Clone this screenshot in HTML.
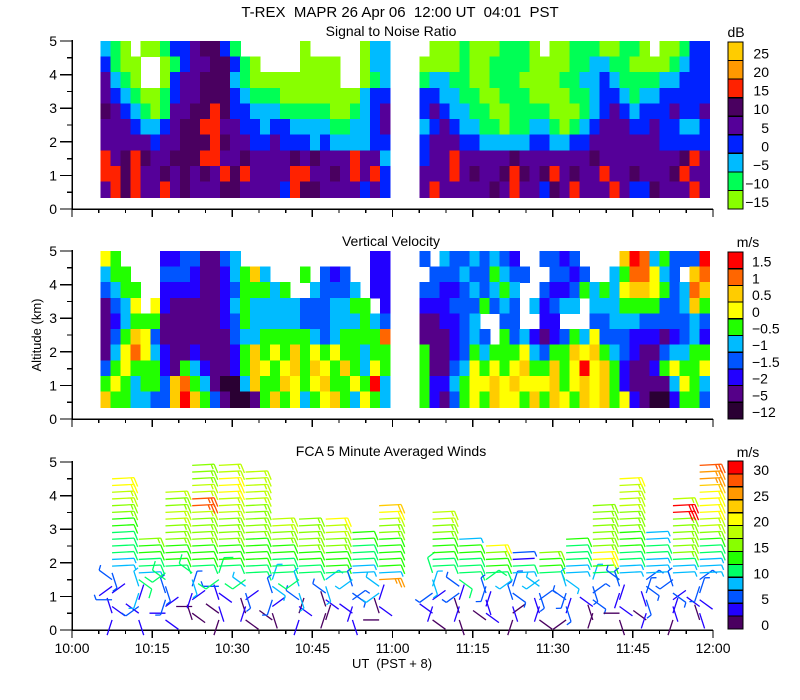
<!DOCTYPE html>
<html><head><meta charset="utf-8">
<style>
html,body{margin:0;padding:0;background:#fff;}
svg{display:block;font-family:"Liberation Sans",sans-serif;}
text{fill:#000;}
</style></head>
<body>
<svg id="chart" width="800" height="700" viewBox="0 0 800 700" xmlns="http://www.w3.org/2000/svg" shape-rendering="crispEdges">
<text x="400" y="17" font-size="15" text-anchor="middle" xml:space="preserve">T-REX  MAPR 26 Apr 06  12:00 UT  04:01  PST</text>
<text x="391" y="36" font-size="14" text-anchor="middle">Signal to Noise Ratio</text>
<text x="391" y="246" font-size="14" text-anchor="middle">Vertical Velocity</text>
<text x="391" y="456" font-size="14" text-anchor="middle">FCA 5 Minute Averaged Winds</text>
<text x="392" y="668" font-size="13" text-anchor="middle" xml:space="preserve">UT  (PST + 8)</text>
<text x="0" y="0" font-size="13" text-anchor="middle" transform="translate(41,335) rotate(-90)">Altitude (km)</text>
<text x="736" y="37" font-size="14" text-anchor="middle">dB</text>
<text x="748" y="247" font-size="14" text-anchor="middle">m/s</text>
<text x="748" y="457" font-size="14" text-anchor="middle">m/s</text>
<g id="layer"></g>
</svg>
<script>
// ---- Shared axis data ----
const xTickLabels = ["10:00","10:15","10:30","10:45","11:00","11:15","11:30","11:45","12:00"];
const yTickLabels = ["0","1","2","3","4","5"];

// ---- SNR heatmap data (rows top->bottom, 5 km to 0.35 km; color class index) ----
const snrLevels = ["25","20","15","10","5","0","-5","-10","-15"];
const snrColors = ["#ffffff","#88ff00","#00ff55","#00bbff","#0022ff","#550099","#4a0060","#ff2200","#ff9900","#ffcc00"];
const snrLeft = [
"32101124456642000000100000133",
"42110012455664210000111100133",
"53210014556663211111111100123",
"54321124556664322211111111344",
"65432125566764433322222112345",
"55543345667755443443333223345",
"55555455666765544544434333344",
"75676556667755655556565557553",
"77675565656576755557755657574",
"57675575655566555547665555454"];
const snrRight = [
"01112111222101122211221011244",
"11112112222111122332211112344",
"23322112221111223343222233444",
"44332211222111122344323344444",
"45433221122221112345434445445",
"34543322122332123455544544334",
"45554433333443344555555544444",
"45575555565555555655555555675",
"55575655676567565575565556755",
"57555556575546575557544655575"];

// ---- Vertical velocity heatmap data ----
const velLevels = ["1.5","1","0.5","0","-0.5","-1","-1.5","-2","-5","-12"];
const velColors = ["#ffffff","#2a0033","#550088","#2200ff","#0055ff","#00bbff","#22ff00","#ffff00","#ffcc00","#ff6600","#ff0000"];
const velLeft = [
"76000033442245000000000000033",
"56600044432235685000604340033",
"45660033332234666560054445033",
"24570732222235655555444556603",
"23566622222234655555444555654",
"24687422222224556666654566669",
"25797532232223686768676766566",
"46766632653223687678687686576",
"676566489652115866876786676a5",
"86655448a86421126867567865765"];
const velRight = [
"405445454300443400008a956444a",
"04445446544004434005699754089",
"44334545650043346565788764598",
"33344464540534550555666644586",
"22334500440033000445554444454",
"22234540645323465744433323453",
"62234656667546687865432245566",
"6224576767866867a786322367667",
"63356778787778678786322225765",
"63246768776868768786732113664"];

// ---- Wind barbs: speed class per level (bottom 0.3 km upward, 0.2 km step) ----
const windLevels = ["30","25","20","15","10","5","0"];
const windColors = ["#4a0060","#2200ff","#0055ff","#00bbff","#00ff66","#22ff00","#88ff00","#bbff00","#ffff00","#ffcc00","#ff9900","#ff5500","#ff0000"];
const windTimes = [7.5,12.5,17.5,22.5,27.5,32.5,37.5,42.5,47.5,52.5,57.5,67.5,72.5,77.5,82.5,87.5,92.5,97.5,102.5,107.5,112.5,117.5];
const windSpeeds = [
"1112112233444455667788","1121334344556","11122244455566677667","00011234455566667bb77666",
"001112444555666677788877","00112344455556666677777","0012233444556677","1012334445566666",
"0001233455566778","11122233344455","001133a35555566789",
"01112334445556677","0011224444553","011122445568","00122233412","01122334556",
"0122233334445","001222345886666666","0011122334455566677778","01122223334433",
"0111222334666666cc7","011122233344567788889aab"];
// direction code per level: digit k -> angle 36*k degrees; 'h' -> westerly (shaft to the right)
const windDirs = [
"37159462hhhhhhhhhhhhhh","2648371hhhhhh","15937264hhhhhhhhhhhh","71593826hhhhhhhhhhhhhhhh",
"36271548hhhhhhhhhhhhhhhh","1739264hhhhhhhhhhhhhhhh","6293718hhhhhhhhh","3816274hhhhhhhhh",
"8371629hhhhhhhhh","2639174hhhhhhh","571846hhhhhhhhhhhh",
"16394827hhhhhhhhh","2738461hhhhhh","6182739hhhhh","3927184hhhh","1739264hhhh",
"4826371hhhhhh","7361928hhhhhhhhhh","2518376hhhhhhhhhhhhhh","6372819hhhhhhh",
"3829174hhhhhhhhhhhh","7261839hhhhhhhhhhhhhhhhh"];

const NS="http://www.w3.org/2000/svg";
const layer=document.getElementById('layer');
function mk(tag,attrs,parent){const e=document.createElementNS(NS,tag);for(const k in attrs)e.setAttribute(k,attrs[k]);(parent||layer).appendChild(e);return e;}

const X0=72, X1=713;
function xScale(min){return X0+(X1-X0)*min/120;}
const panels=[{bottom:209,name:'snr'},{bottom:419,name:'velocity'},{bottom:630,name:'winds'}];
const KM=33.6;
function yScale(p,km){return p.bottom-km*KM;}

// axes
panels.forEach((p,pi)=>{
  const g=mk('g',{});
  
  
  mk('line',{x1:X0,y1:yScale(p,5)-1,x2:X0,y2:p.bottom,stroke:'#000','stroke-width':1.5},g);
  mk('line',{x1:X0,y1:p.bottom,x2:X1,y2:p.bottom,stroke:'#000','stroke-width':1.5},g);
  for(let k=0;k<=10;k++){
    const y=yScale(p,k/2);
    mk('line',{x1:X0-(k%2?5:12),y1:y,x2:X0,y2:y,stroke:'#000','stroke-width':1.3},g);
  }
  yTickLabels.forEach((lab,i)=>{
    const t=mk('text',{x:57,y:yScale(p,i)+5,'font-size':14,'text-anchor':'end'},g);
    
    
    t.textContent=lab;
  });
  for(let m=0;m<=120;m+=5){
    const x=xScale(m);
    mk('line',{x1:x,y1:p.bottom,x2:x,y2:p.bottom+(m%15?4:8),stroke:'#000','stroke-width':1.3},g);
  }
  if(pi===2){
    xTickLabels.forEach((lab,i)=>{
      const t=mk('text',{x:xScale(i*15),y:653,'font-size':14,'text-anchor':'middle'},g);
      
      
      t.textContent=lab;
    });
  }
});

// heatmaps
const blockStarts=[5.3,65.1];
const colMin=1.87, KTOP=5, KBOT=0.35;
function drawHeat(p,rowsL,rowsR,colors,name){
  const g=mk('g',{});
  
  
  [rowsL,rowsR].forEach((rows,b)=>{
    const nr=rows.length, dk=(KTOP-KBOT)/nr;
    rows.forEach((row,r)=>{
      for(let c=0;c<row.length;c++){
        const v=parseInt(row[c],16);
        if(!v) continue;
        const t0=blockStarts[b]+c*colMin;
        const x=xScale(t0), w=xScale(t0+colMin)-x;
        const yTop=yScale(p,KTOP-r*dk), yB=yScale(p,KTOP-(r+1)*dk);
        const cell=mk('rect',{x:x,y:yTop,width:w+0.6,height:yB-yTop+0.6,fill:colors[v]},g);
        
        
      }
    });
  });
}
drawHeat(panels[0],snrLeft,snrRight,snrColors,'snr');
drawHeat(panels[1],velLeft,velRight,velColors,'velocity');

// colorbars
function colorbar(top,bottom,colors,name){
  const g=mk('g',{});
  
  
  const n=colors.length, h=(bottom-top)/n;
  for(let i=0;i<n;i++){
    const r=mk('rect',{x:728,y:top+i*h,width:15,height:h,fill:colors[i],stroke:'#000','stroke-width':1.2},g);
    
    
  }
  return {g,h,n};
}
(function(){
  const cb=colorbar(42,209,snrColors.slice(1).reverse(),'snr');
  snrLevels.forEach((lab,i)=>{
    const t=mk('text',{x:769,y:42+(i+1)*cb.h-2,'font-size':14,'text-anchor':'end'},cb.g);
    
    
    t.textContent=lab.replace('-','\u2212');
  });
  const cv=colorbar(252,419,velColors.slice(1).reverse(),'velocity');
  velLevels.forEach((lab,i)=>{
    const t=mk('text',{x:752,y:252+(i+1)*cv.h-2,'font-size':14,'text-anchor':'start'},cv.g);
    
    
    t.textContent=lab.replace('-','\u2212');
  });
  const cw=colorbar(461,629,windColors.slice().reverse(),'wind');
  windLevels.forEach((lab,i)=>{
    const v=parseFloat(lab);
    const t=mk('text',{x:769,y:629-v/32.5*168+1,'font-size':14,'text-anchor':'end'},cw.g);
    
    
    t.textContent=lab;
  });
})();

// wind barbs
(function(){
  const p=panels[2];
  const g=mk('g',{'shape-rendering':'auto'});
  
  
  windTimes.forEach((tm,ci)=>{
    const sp=windSpeeds[ci], dr=windDirs[ci]||'';
    const sx=xScale(tm);
    for(let i=0;i<sp.length;i++){
      const cls=parseInt(sp[i],16);
      const speed=cls*2.5+1.25;
      const km=0.3+0.2*i;
      const sy=yScale(p,km);
      const dc=dr[i]||'h';
      let ang = dc==='h' ? -3 : parseInt(dc)*36;
      const a=ang*Math.PI/180;
      const ux=Math.cos(a), uy=Math.sin(a);
      const L=dc==='h'?22:16;
      const ex=sx+ux*L, ey=sy+uy*L;
      const col=windColors[cls];
      const bg=mk('g',{stroke:col,'stroke-width':1.3,fill:'none'},g);
      
      
      mk('line',{x1:sx,y1:sy,x2:ex,y2:ey},bg);
      const px=-uy, py=ux;
      let rem=speed, k=0;
      while(rem>=5){
        const full=rem>=10;
        const len=full?9:5;
        const bx=ex-ux*k*3, by=ey-uy*k*3;
        mk('line',{x1:bx,y1:by,x2:bx+px*len+ux*len*0.35,y2:by+py*len+uy*len*0.35},bg);
        rem-=full?10:5; k++;
      }
    }
  });
})();
</script>
</body></html>
